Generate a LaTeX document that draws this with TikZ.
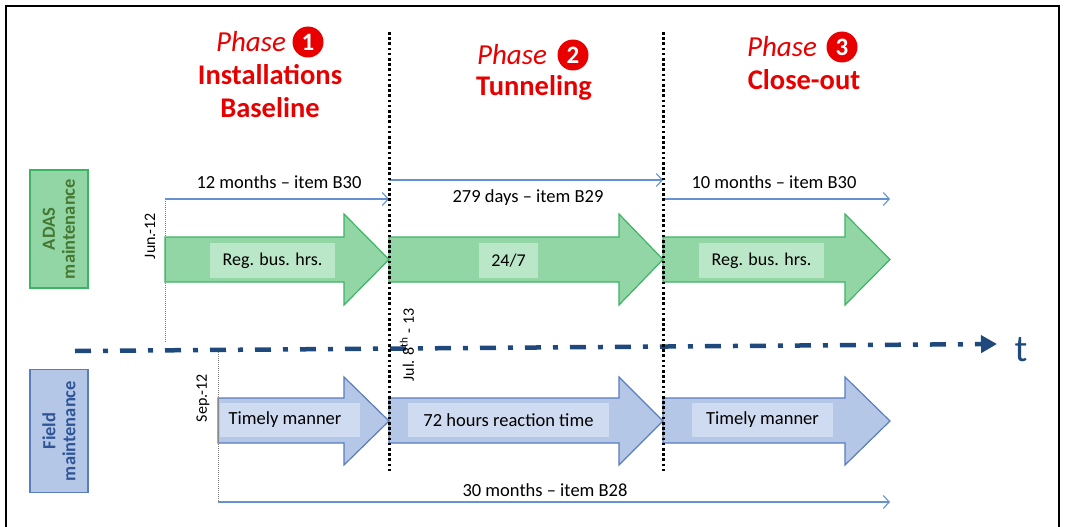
\documentclass[tikz,border=0pt]{standalone}
\usepackage{fontspec}
\setmainfont{Carlito}
\usetikzlibrary{arrows.meta}
\definecolor{gfill}{RGB}{146,214,166}
\definecolor{gline}{RGB}{60,180,100}
\definecolor{glab}{RGB}{186,231,199}
\definecolor{bfill}{RGB}{180,199,231}
\definecolor{bline}{RGB}{90,125,190}
\definecolor{blab}{RGB}{206,219,240}
\definecolor{gtext}{RGB}{70,120,50}
\definecolor{btext}{RGB}{47,85,151}
\definecolor{axis}{RGB}{31,73,125}
\definecolor{thin}{RGB}{100,145,210}
\definecolor{pred}{RGB}{232,0,0}
\tikzset{
  garrow/.style={draw=gline,fill=gfill,line width=1.2pt,line join=miter},
  barrow/.style={draw=bline,fill=bfill,line width=1.2pt,line join=miter},
  glabel/.style={fill=glab,inner sep=0pt,minimum height=35pt,font=\fontsize{18}{20}\selectfont},
  blabel/.style={fill=blab,inner sep=0pt,minimum height=34pt,font=\fontsize{18.5}{20}\selectfont},
  span/.style={draw=thin,line width=1.1pt,-{Straight Barb[length=6pt,width=13pt,line width=1.1pt]}},
  spanlab/.style={font=\fontsize{18.5}{20}\selectfont,inner sep=1pt},
  phasediv/.style={draw=black,line width=3pt,dash pattern=on 2.6pt off 2.6pt},
  startline/.style={draw=gray,line width=0.9pt,dash pattern=on 1pt off 1pt},
  datelab/.style={rotate=90,font=\fontsize{16}{18}\selectfont,inner sep=0pt},
  phasetxt/.style={text=pred,font=\fontsize{29}{31}\selectfont\itshape,inner sep=0pt},
  phasenum/.style={circle,fill=pred,text=white,inner sep=0pt,minimum size=31pt,font=\fontsize{25}{27}\selectfont\bfseries},
  phasetitle/.style={text=pred,font=\fontsize{28.5}{30}\selectfont\bfseries,inner sep=0pt},
  rowbox/.style={line width=1.3pt,minimum height=58pt,align=center,font=\fontsize{18.5}{20}\selectfont\bfseries,inner sep=0pt},
}
\begin{document}
\begin{tikzpicture}[x=1pt,y=-1pt]
\useasboundingbox (0,0) rectangle (1065,527);
% frame
\draw[line width=2.5pt] (6,527) -- (6,6) -- (1059,6) -- (1059,527);

% phase titles
\node[phasetxt] (ph1) at (251,42) {Phase};
\node[phasenum] (n1) at (308,42) {1};
\node[phasetitle] (t1a) at (270,75) {Installations};
\node[phasetitle] (t1b) at (270,108) {Baseline};
\node[phasetxt] (ph2) at (512,55) {Phase};
\node[phasenum] (n2) at (573,55) {2};
\node[phasetitle] (t2) at (534,88) {Tunneling};
\node[phasetxt] (ph3) at (782,47) {Phase};
\node[phasenum] (n3) at (842,47) {3};
\node[phasetitle] (t3) at (804,80) {Close-out};

% row boxes
\node[rowbox,draw=gline,fill=gfill,text=gtext,minimum width=118pt,rotate=90] (adas) at (59,229) {ADAS\\maintenance};
\node[rowbox,draw=bline,fill=bfill,text=btext,minimum width=123pt,rotate=90] (field) at (59,431) {Field\\maintenance};

% green arrows
\draw[garrow] (165,237) -- (344,237) -- (344,214) -- (389,259.5) -- (344,305) -- (344,282) -- (165,282) -- cycle;
\draw[garrow] (389,237) -- (619,237) -- (619,214) -- (663,259.5) -- (619,305) -- (619,282) -- (389,282) -- cycle;
\draw[garrow] (663,237) -- (845,237) -- (845,214) -- (890,259.5) -- (845,305) -- (845,282) -- (663,282) -- cycle;
\node[glabel,minimum width=125pt] (g1) at (272.5,260.5) {Reg. bus. hrs.};
\node[glabel,minimum width=59pt] (g2) at (508.5,260.5) {24/7};
\node[glabel,minimum width=125pt] (g3) at (761.5,260.5) {Reg. bus. hrs.};

% blue arrows
\draw[barrow] (218,398) -- (344,398) -- (344,377) -- (389,421) -- (344,465) -- (344,443) -- (218,443) -- cycle;
\draw[barrow] (389,398) -- (619,398) -- (619,377) -- (663,421) -- (619,465) -- (619,443) -- (389,443) -- cycle;
\draw[barrow] (663,398) -- (845,398) -- (845,377) -- (890,421) -- (845,465) -- (845,443) -- (663,443) -- cycle;
\node[blabel,minimum width=140pt] (b1) at (290,420) {\hspace*{-10pt}Timely manner};
\node[blabel,minimum width=201pt] (b2) at (508.5,420) {72 hours reaction time};
\node[blabel,minimum width=141pt] (b3) at (762.5,420) {Timely manner};

% time axis
\coordinate (ax0) at (75,351);
\coordinate (ax1) at (997,344);
\draw[axis,line width=4.5pt,dash pattern=on 16pt off 12pt on 5pt off 12pt,-{Triangle[length=16pt,width=17pt]}] (ax0) -- (ax1);
\node[text=axis,font=\fontsize{38}{40}\selectfont,inner sep=0pt] (tlab) at (1021,350) {t};

% start lines
\coordinate (jun0) at (165,199);
\coordinate (jun1) at (165,343);
\coordinate (sep0) at (218,352);
\coordinate (sep1) at (218,502);
\draw[startline] (jun0) -- (jun1);
\draw[startline] (sep0) -- (sep1);
\node[datelab] (jun) at (150,236) {Jun.-12};
\node[datelab] (sep) at (203,398) {Sep.-12};
\node[datelab] (jul) at (407,345) {Jul. 8\textsuperscript{th} - 13};

% span lines
\coordinate (s1a) at (165,199);
\coordinate (s1b) at (389,199);
\coordinate (s2a) at (389,180);
\coordinate (s2b) at (663,180);
\coordinate (s3a) at (663,199);
\coordinate (s3b) at (890,199);
\coordinate (s4a) at (218,502);
\coordinate (s4b) at (890,502);
\draw[span] (s1a) -- (s1b);
\draw[span] (s2a) -- (s2b);
\draw[span] (s3a) -- (s3b);
\draw[span] (s4a) -- (s4b);
\node[spanlab] (l1) at (279,182) {12 months -- item B30};
\node[spanlab] (l2) at (528,198) {279 days -- item B29};
\node[spanlab] (l3) at (774,182) {10 months -- item B30};
\node[spanlab] (l4) at (545,490) {30 months -- item B28};

% phase dividers
\coordinate (d1a) at (389,32);
\coordinate (d1b) at (389,473);
\coordinate (d2a) at (663,32);
\coordinate (d2b) at (663,473);
\draw[phasediv] (d1a) -- (d1b);
\draw[phasediv] (d2a) -- (d2b);
\end{tikzpicture}
\end{document}
